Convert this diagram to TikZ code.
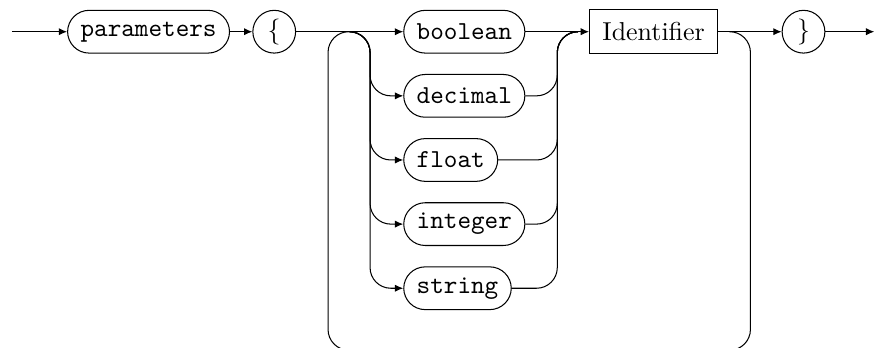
\documentclass[tikz,border=0pt]{standalone}
\usetikzlibrary{arrows.meta}

\begin{document}
\begin{tikzpicture}[
      terminal/.style={draw, rounded corners=8.3pt, minimum height=0.58cm,
        inner xsep=5pt, font=\ttfamily},
      nonterminal/.style={draw, minimum height=0.6cm, inner xsep=5pt},
      brace/.style={draw, circle, minimum size=0.58cm, inner sep=0pt},
      rail/.style={rounded corners=8pt},
      >={Latex[length=3.2pt, width=2.8pt]}
    ]
      \useasboundingbox (0,0) rectangle (11.87,-4.72);
      % main line
      \coordinate (start) at (0.16,-0.43);
      \node[terminal, anchor=west] (params) at (0.91,-0.43) {parameters};
      \node[brace] (lbrace) at (3.72,-0.43) {\{};
      \node[terminal, anchor=west] (boolean) at (5.47,-0.43) {boolean};
      \node[terminal, anchor=west] (decimal) at (5.47,-1.30) {decimal};
      \node[terminal, anchor=west] (float) at (5.47,-2.17) {float};
      \node[terminal, anchor=west] (integer) at (5.47,-3.04) {integer};
      \node[terminal, anchor=west] (string) at (5.47,-3.91) {string};
      \node[nonterminal, anchor=west] (ident) at (7.99,-0.43) {Identifier};
      \node[brace] (rbrace) at (10.90,-0.43) {\}};
      \coordinate (finish) at (11.86,-0.43);
      % junctions
      \coordinate (split) at (4.74,-0.43);
      \coordinate (forkL) at (5.02,-0.43);
      \coordinate (forkR) at (7.56,-0.43);
      \coordinate (merge) at (7.84,-0.43);
      \coordinate (loopout) at (9.89,-0.43);
      \coordinate (loopbottom) at (10.18,-4.75);
      \coordinate (loopleft) at (4.45,-0.43);
      \draw[->] (start) -- (params);
      \draw[->] (params) -- (lbrace);
      \draw[->] (lbrace) -- (boolean);
      \draw[->] (boolean) -- (ident);
      \draw[->] (ident) -- (rbrace);
      \draw[->] (rbrace) -- (finish);
      % alternatives
      \foreach \kw in {decimal, float, integer, string} {
        \draw[->, rail] (split) -- (forkL) |- (\kw.west);
        \draw[rail] (\kw.east) -| (forkR) -- (merge);
      }
      % repetition
      \draw[rail] (loopout) -| (loopbottom) -| (loopleft) -- (split);
    \end{tikzpicture}
\end{document}
